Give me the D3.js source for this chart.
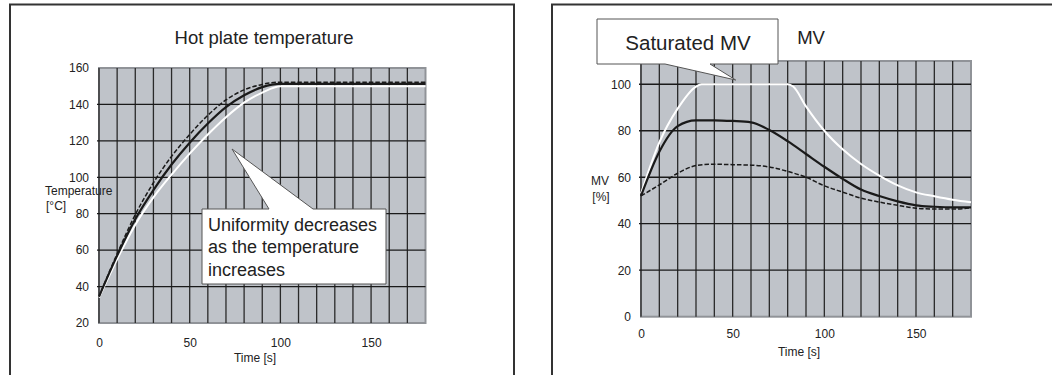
<!DOCTYPE html>
<html>
<head>
<meta charset="utf-8">
<script src="https://cdn.jsdelivr.net/npm/d3@7"></script>
<style>
  body { margin: 0; background: #fff; }
  svg { display: block; font-family: Arial, "Liberation Sans", sans-serif; }
  .tick text { fill: #222; }
</style>
</head>
<body>
<div id="chart"></div>
<script>
// ---- data ----
var timeTemp = [0, 10, 20, 30, 40, 50, 60, 70, 80, 90, 100, 110, 120, 130, 140, 150, 160, 170, 180];
var tempDashed = [34.5, 58, 79.5, 97, 111.5, 123.5, 134, 142.5, 148, 151, 152.2, 152.2, 152.2, 152.2, 152.2, 152.2, 152.2, 152.2, 152.2];
var tempSolid = [34.5, 57, 77, 93, 107, 119, 129.5, 138.5, 145, 149.5, 151.3, 151.3, 151.3, 151.3, 151.3, 151.3, 151.3, 151.3, 151.3];
var tempWhite = [34, 55, 74, 89, 101.5, 113, 123.5, 133, 141, 146.5, 150, 150, 150, 150, 150, 150, 150, 150, 150];

var timeMV = [0, 10, 20, 30, 40, 50, 60, 70, 80, 90, 100, 110, 120, 130, 140, 150, 160, 170, 180];
var mvDashed = [52, 56.7, 61.7, 65, 65.6, 65.4, 65.2, 64.4, 62.5, 60, 56.3, 53.6, 51, 49.3, 47.9, 46.7, 46.3, 46.3, 46.8];
var mvSolid = [52, 71, 82, 84.5, 84.5, 84.2, 83.6, 80.3, 75.5, 70, 64.5, 59.3, 54.7, 51.9, 49.6, 47.9, 47.3, 47, 47];
var timeMVWhite = [0, 10, 20, 30, 33, 80, 83, 90, 100, 110, 120, 130, 140, 150, 160, 170, 180];
var mvWhite = [53, 75, 89.5, 99, 100, 100, 99, 90.5, 80, 72, 65.7, 60.7, 56.5, 53.5, 51.8, 50.3, 49.2];

var xTicks = [0, 50, 100, 150];
var tempTicks = [20, 40, 60, 80, 100, 120, 140, 160];
var mvTicks = [0, 20, 40, 60, 80, 100];

var W = 1052, H = 375;
var svg = d3.select("#chart").append("svg").attr("width", W).attr("height", H);

// panel frames
svg.append("rect").attr("x", 10).attr("y", 4.5).attr("width", 504).attr("height", 400)
   .attr("fill", "none").attr("stroke", "#333").attr("stroke-width", 2);
svg.append("rect").attr("x", 552).attr("y", 4.5).attr("width", 520).attr("height", 400)
   .attr("fill", "none").attr("stroke", "#333").attr("stroke-width", 2);

// draws one gray grid plot, returns scales
function plot(opt) {
    var x = d3.scaleLinear().domain([0, 180]).range([opt.x0, opt.x1]);
    var y = d3.scaleLinear().domain(opt.yDomain).range([opt.y1, opt.y0]);
    var g = svg.append("g");

    g.append("rect").attr("x", opt.x0).attr("y", opt.y0)
     .attr("width", opt.x1 - opt.x0).attr("height", opt.y1 - opt.y0)
     .attr("fill", "#bfc3c9").attr("stroke", "#909398").attr("stroke-width", 2);

    // grid
    g.selectAll(".vg").data(d3.range(0, 180, 10)).enter().append("line")
     .attr("x1", function(d) { return x(d); }).attr("x2", function(d) { return x(d); })
     .attr("y1", opt.y0).attr("y2", opt.y1)
     .attr("stroke", "#2a2a2a").attr("stroke-width", 1.3);
    g.selectAll(".hg").data(opt.grid).enter().append("line")
     .attr("x1", opt.x0 - 2).attr("x2", opt.x1)
     .attr("y1", function(d) { return y(d); }).attr("y2", function(d) { return y(d); })
     .attr("stroke", "#1a1a1a").attr("stroke-width", 1.3);

    // axes (labels only)
    var ax = g.append("g").attr("transform", "translate(0," + opt.y1 + ")")
     .call(d3.axisBottom(x).tickValues(xTicks).tickSize(0).tickPadding(opt.xPad));
    ax.select(".domain").remove();
    ax.selectAll("text").attr("font-size", 12).attr("font-family", "Arial, 'Liberation Sans', sans-serif");

    var ay = g.append("g").attr("transform", "translate(" + opt.x0 + ",0)")
     .call(d3.axisLeft(y).tickValues(opt.yTicks).tickSize(0).tickPadding(10));
    ay.select(".domain").remove();
    ay.selectAll("text").attr("font-size", 12).attr("font-family", "Arial, 'Liberation Sans', sans-serif");

    return { x: x, y: y, g: g };
}

function drawLine(p, xs, ys, color, width, dash) {
    var pts = xs.map(function(t, i) { return [t, ys[i]]; });
    var line = d3.line()
        .x(function(d) { return p.x(d[0]); })
        .y(function(d) { return p.y(d[1]); })
        .curve(d3.curveMonotoneX);
    p.g.append("path").datum(pts)
       .attr("d", line).attr("fill", "none")
       .attr("stroke", color).attr("stroke-width", width)
       .attr("stroke-dasharray", dash || null);
}

function label(x, y, txt, size, anchor) {
    svg.append("text").attr("x", x).attr("y", y).text(txt)
       .attr("font-size", size).attr("fill", "#222")
       .attr("text-anchor", anchor || "middle");
}

// ---- left: hot plate temperature ----
var pL = plot({ x0: 99, x1: 425.5, y0: 68, y1: 323, yDomain: [20, 160],
                yTicks: tempTicks, grid: [40, 60, 80, 100, 120, 140], xPad: 15 });
drawLine(pL, timeTemp, tempWhite, "#fff", 2);
drawLine(pL, timeTemp, tempSolid, "#1a1a1a", 2.2);
drawLine(pL, timeTemp, tempDashed, "#1a1a1a", 1.5, "4.5,2");

label(264, 44, "Hot plate temperature", 18.5);
label(255, 362, "Time [s]", 12);
label(45, 195, "Temperature", 12, "start");
label(46, 210, "[°C]", 12, "start");

// callout
svg.append("path")
   .attr("d", "M202,209 H269 L232,149 L313,209 H386 V284 H202 Z")
   .attr("fill", "#fff").attr("stroke", "#555").attr("stroke-width", 1);
label(208, 230.5, "Uniformity decreases", 18, "start");
label(208, 253, "as the temperature", 18, "start");
label(208, 275.5, "increases", 18, "start");

// ---- right: MV ----
var pR = plot({ x0: 641, x1: 971, y0: 61, y1: 316.7, yDomain: [0, 110],
                yTicks: mvTicks, grid: [20, 40, 60, 80, 100], xPad: 13 });
drawLine(pR, timeMVWhite, mvWhite, "#fff", 2);
drawLine(pR, timeMV, mvSolid, "#1a1a1a", 2.2);
drawLine(pR, timeMV, mvDashed, "#1a1a1a", 1.5, "4.5,2");

label(811, 44, "MV", 18.5);
label(799, 356, "Time [s]", 12);
label(600, 185, "MV", 12);
label(601, 201, "[%]", 12);

svg.append("path")
   .attr("d", "M597,19 H778 V64 H710 L735.7,80 L665,64 H597 Z")
   .attr("fill", "#fff").attr("stroke", "#555").attr("stroke-width", 1);
label(688, 49.5, "Saturated MV", 20.5);
</script>
</body>
</html>
